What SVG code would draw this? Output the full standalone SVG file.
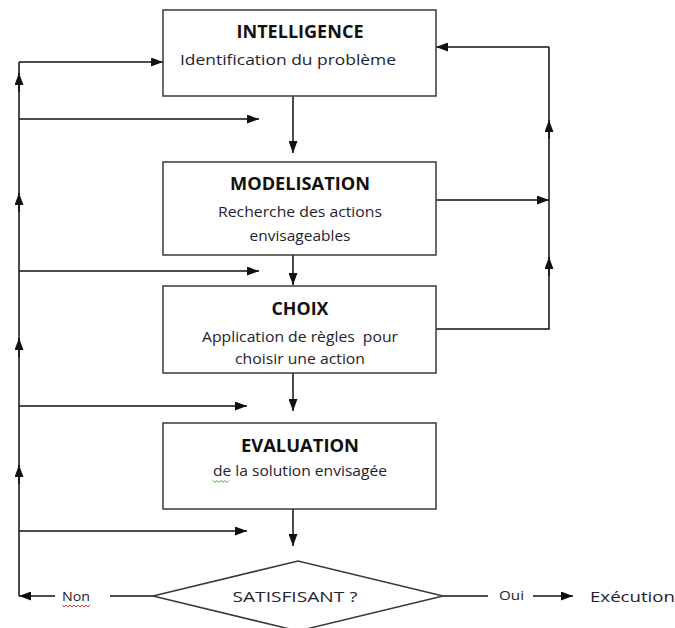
<svg xmlns="http://www.w3.org/2000/svg" width="675" height="628" viewBox="0 0 675 628">
  <style>
    .box { fill: #fff; stroke: #3a3a3a; stroke-width: 1.5; }
    .ln { fill: none; stroke: #111; stroke-width: 1.5; }
    .arr { fill: none; stroke: #111; stroke-width: 1.5; marker-end: url(#ah); }
    .title { font-family: "Open Sans", "Liberation Sans", sans-serif; font-weight: bold; font-size: 17px; fill: #111; text-anchor: middle; }
    .sub { font-family: "Open Sans", "Liberation Sans", sans-serif; font-size: 15px; fill: #1e2230; text-anchor: middle; }
    .lbl { font-family: "Open Sans", "Liberation Sans", sans-serif; font-size: 13px; fill: #222; }
    .wavy { fill: none; stroke-width: 0.9; }
  </style>
  <defs>
    <marker id="ah" viewBox="0 0 12 9" refX="12" refY="4.5" markerWidth="12" markerHeight="9" markerUnits="userSpaceOnUse" orient="auto">
      <path d="M0,0 L12,4.5 L0,9 z" fill="#111"/>
    </marker>
  </defs>
  <rect width="675" height="628" fill="#fff"/>

  <!-- connectors -->
  <g id="connectors">
    <!-- main downward flow -->
    <path class="arr" d="M293,96 V153"/>
    <path class="arr" d="M293,255 V285"/>
    <path class="arr" d="M293,373 V411"/>
    <path class="arr" d="M293,509 V546"/>

    <!-- left feedback bus -->
    <path class="ln" d="M19,596 V62"/>
    <path class="arr" d="M19,62 H163"/>
    <path class="arr" d="M19,119 H259"/>
    <path class="arr" d="M19,271 H259"/>
    <path class="arr" d="M19,406 H247"/>
    <path class="arr" d="M19,531 H247"/>
    <path class="arr" d="M19,92 V73"/>
    <path class="arr" d="M19,212 V193"/>
    <path class="arr" d="M19,357 V338"/>
    <path class="arr" d="M19,484 V465"/>

    <!-- right feedback bus -->
    <path class="ln" d="M436,329 H549 V47"/>
    <path class="arr" d="M549,47 H436"/>
    <path class="arr" d="M436,200 H549"/>
    <path class="arr" d="M549,139 V120"/>
    <path class="arr" d="M549,276 V257"/>

    <!-- decision outputs -->
    <path class="ln" d="M153,596 H110"/>
    <path class="arr" d="M55,596 H19"/>
    <path class="ln" d="M443,596 H488"/>
    <path class="arr" d="M533,596 H573"/>
  </g>

  <g id="intelligence">
    <rect class="box" x="163" y="10" width="273" height="86"/>
    <text class="title" x="300" y="38" textLength="127" lengthAdjust="spacingAndGlyphs">INTELLIGENCE</text>
    <text class="sub" x="288" y="65" textLength="216" lengthAdjust="spacingAndGlyphs">Identification du problème</text>
  </g>

  <g id="modelisation">
    <rect class="box" x="163" y="162" width="273" height="93"/>
    <text class="title" x="300" y="190" textLength="140" lengthAdjust="spacingAndGlyphs">MODELISATION</text>
    <text class="sub" x="300" y="217" textLength="164" lengthAdjust="spacingAndGlyphs">Recherche des actions</text>
    <text class="sub" x="300" y="241" textLength="101" lengthAdjust="spacingAndGlyphs">envisageables</text>
  </g>

  <g id="choix">
    <rect class="box" x="163" y="286" width="273" height="87"/>
    <text class="title" x="300" y="315" textLength="57" lengthAdjust="spacingAndGlyphs">CHOIX</text>
    <text class="sub" x="300" y="342" textLength="196" lengthAdjust="spacingAndGlyphs" xml:space="preserve">Application de règles  pour</text>
    <text class="sub" x="300" y="364" textLength="130" lengthAdjust="spacingAndGlyphs">choisir une action</text>
  </g>

  <g id="evaluation">
    <rect class="box" x="163" y="423" width="273" height="86"/>
    <text class="title" x="300" y="452" textLength="118" lengthAdjust="spacingAndGlyphs">EVALUATION</text>
    <text class="sub" x="300" y="476" textLength="174" lengthAdjust="spacingAndGlyphs">de la solution envisagée</text>
    <path class="wavy" stroke="#2e9e2e" d="M213,480.5 l2,2 l2,-2 l2,2 l2,-2 l2,2 l2,-2 l2,2 l2,-2"/>
  </g>

  <g id="satisfisant">
    <polygon class="box" points="153,596 298,561 443,596 298,631"/>
    <text class="sub" x="295" y="602" font-size="16" textLength="125" lengthAdjust="spacingAndGlyphs">SATISFISANT ?</text>
  </g>

  <g id="labels">
    <text class="lbl" x="62" y="601" textLength="28" lengthAdjust="spacingAndGlyphs">Non</text>
    <path class="wavy" stroke="#d22" d="M62,605 l2,2 l2,-2 l2,2 l2,-2 l2,2 l2,-2 l2,2 l2,-2 l2,2 l2,-2 l2,2 l2,-2 l2,2 l2,-2"/>
    <text class="lbl" x="499" y="600" textLength="25" lengthAdjust="spacingAndGlyphs">Oui</text>
    <text class="sub" x="590" y="602" font-size="17" style="text-anchor:start" fill="#111" textLength="85" lengthAdjust="spacingAndGlyphs">Exécution</text>
  </g>
</svg>
